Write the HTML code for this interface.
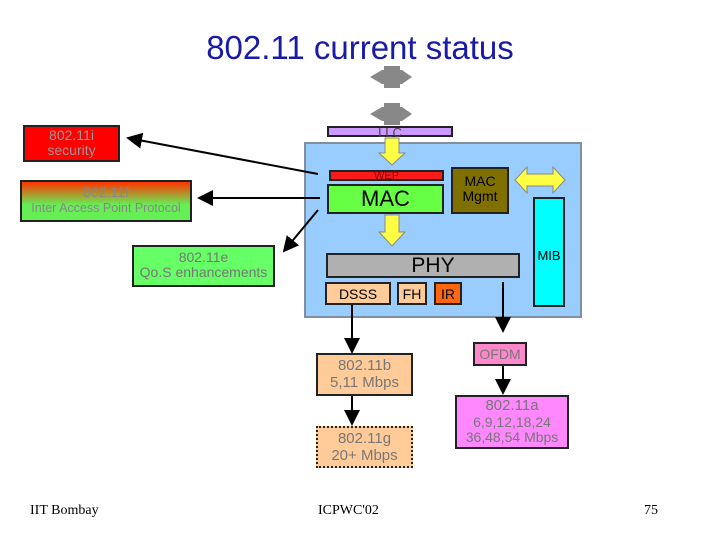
<!DOCTYPE html>
<html><head><style>
body{margin:0;width:720px;height:540px;background:#fff;position:relative;overflow:hidden;font-family:"Liberation Sans",sans-serif}
.b{position:absolute;box-sizing:border-box;text-align:center;line-height:1.1}
</style></head><body>
<div class="b" style="left:0;width:720px;top:30px;font-size:33px;color:#1a1aa8">802.11 current status</div>
<div class="b" style="left:304px;top:142px;width:278px;height:176px;background:#99ccff;border:2px solid #8090a0"></div>
<div class="b" style="left:327px;top:126px;width:126px;height:11px;background:#cc99ff;border:2px solid #222;font-size:13px;line-height:9px;color:#444">LLC</div>
<div class="b" style="left:329px;top:170px;width:115px;height:11px;background:#ff1a1a;border:2px solid #222;font-size:11px;line-height:8px;color:#800">WEP</div>
<div class="b" style="left:327px;top:184px;width:117px;height:30px;background:#66ff44;border:2px solid #222;font-size:22px;line-height:26px">MAC</div>
<div class="b" style="left:451px;top:167px;width:58px;height:47px;background:#807000;border:2px solid #222;font-size:14px;padding-top:5px">MAC<br>Mgmt</div>
<div class="b" style="left:533px;top:197px;width:32px;height:110px;background:#00ffff;border:2px solid #222;font-size:13px;padding-top:50px">MIB</div>
<div class="b" style="left:326px;top:253px;width:194px;height:25px;background:#b0b0b0;border:2px solid #222;font-size:21px;line-height:22px;padding-left:20px">PHY</div>
<div class="b" style="left:325px;top:282px;width:66px;height:23px;background:#ffcc99;border:2px solid #222;font-size:14px;line-height:20px">DSSS</div>
<div class="b" style="left:397px;top:282px;width:30px;height:23px;background:#ffcc99;border:2px solid #222;font-size:14px;line-height:20px">FH</div>
<div class="b" style="left:434px;top:282px;width:28px;height:23px;background:#ff6611;border:2px solid #222;font-size:14px;line-height:20px">IR</div>
<div class="b" style="left:23px;top:125px;width:97px;height:37px;background:#ff0000;border:2px solid #222;font-size:14px;color:#999;padding-top:1px">802.11i<br>security</div>
<div class="b" style="left:20px;top:180px;width:172px;height:42px;background:linear-gradient(#ff3300,#66ee55 60%);border:2px solid #222;font-size:14px;color:#888;padding-top:3px">802.11f<br><span style="font-size:12.5px">Inter Access Point Protocol</span></div>
<div class="b" style="left:132px;top:245px;width:143px;height:42px;background:#66ff66;border:2px solid #222;font-size:14px;color:#777;padding-top:3px">802.11e<br>Qo.S enhancements</div>
<div class="b" style="left:316px;top:353px;width:97px;height:43px;background:#ffcc99;border:2px solid #222;font-size:15px;color:#777;padding-top:3px">802.11b<br>5,11 Mbps</div>
<div class="b" style="left:316px;top:426px;width:97px;height:42px;background:#ffcc99;border:2px dotted #222;font-size:15px;color:#777;padding-top:3px">802.11g<br>20+ Mbps</div>
<div class="b" style="left:473px;top:342px;width:54px;height:24px;background:#ff88cc;border:2px solid #222;font-size:14px;line-height:20px;color:#777">OFDM</div>
<div class="b" style="left:455px;top:395px;width:114px;height:54px;background:#ff88ff;border:2px solid #222;font-size:14px;color:#777;padding-top:1px"><b style="font-weight:normal;font-size:15px">802.11a</b><br>6,9,12,18,24<br>36,48,54 Mbps</div>
<div class="b" style="left:30px;top:503px;font-family:'Liberation Serif',serif;font-size:14px">IIT Bombay</div>
<div class="b" style="left:318px;top:503px;font-family:'Liberation Serif',serif;font-size:14px">ICPWC'02</div>
<div class="b" style="left:644px;top:503px;font-family:'Liberation Serif',serif;font-size:14px">75</div>
<svg width="720" height="540" style="position:absolute;left:0;top:0">
<defs><marker id="a" markerWidth="8" markerHeight="8" refX="7" refY="4" orient="auto"><path d="M0,0L8,4L0,8z" fill="#000"/></marker></defs>
<g fill="#888">
<path d="M370,77L382,70H402L412,77L402,84H382Z"/><rect x="384" y="66" width="16" height="22"/>
<path d="M370,114L382,107H402L412,114L402,121H382Z"/><rect x="384" y="103" width="16" height="22"/>
</g>
<g fill="#ffff44" stroke="#888" stroke-width="1">
<path d="M385,138H399V153H405L392,165L379,153H385Z"/>
<path d="M385,215H399V232H405L392,246L379,232H385Z"/>
<path d="M515,180L527,167V174H553V167L565,180L553,193V186H527V193Z"/>
</g>
<g stroke="#000" stroke-width="2" fill="none">
<line x1="318" y1="174" x2="128" y2="138" marker-end="url(#a)"/>
<line x1="320" y1="198" x2="199" y2="198" marker-end="url(#a)"/>
<line x1="318" y1="210" x2="284" y2="251" marker-end="url(#a)"/>
<line x1="352" y1="305" x2="352" y2="352" marker-end="url(#a)"/>
<line x1="503" y1="282" x2="503" y2="331" marker-end="url(#a)"/>
<line x1="503" y1="366" x2="503" y2="393" marker-end="url(#a)"/>
<line x1="352" y1="396" x2="352" y2="424" marker-end="url(#a)"/>
</g>
</svg>
</body></html>
